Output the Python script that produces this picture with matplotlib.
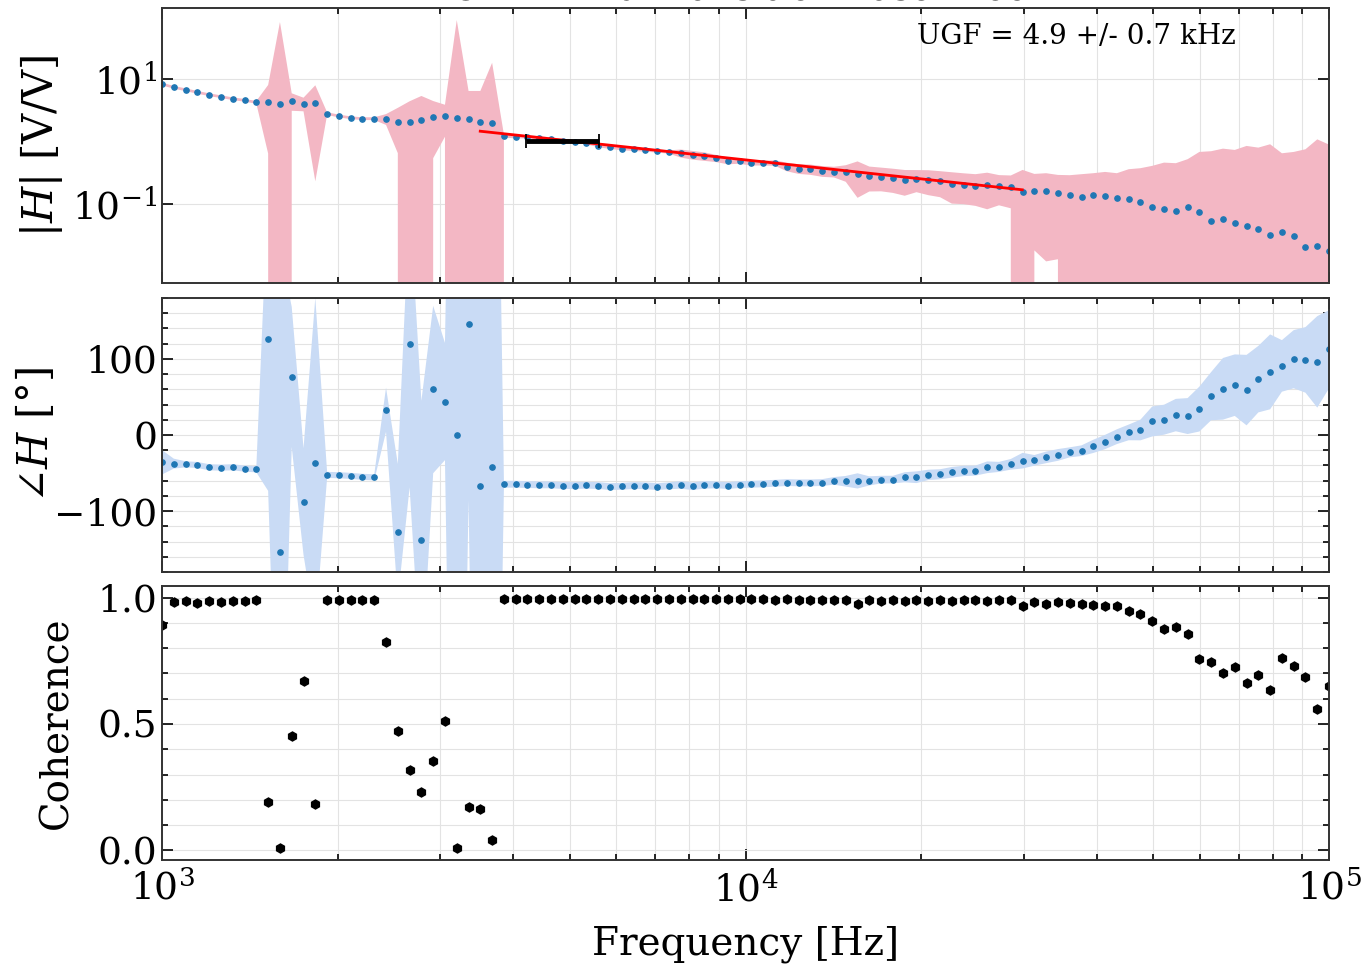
import numpy as np
import matplotlib
matplotlib.use('Agg')
import matplotlib.pyplot as plt
from matplotlib.ticker import FixedLocator, MultipleLocator, NullLocator, LogLocator, NullFormatter

plt.rcParams['font.family'] = ['DejaVu Serif']
plt.rcParams['mathtext.fontset'] = 'dejavuserif'

# swept sine: 100 log-spaced points, 1 kHz .. 100 kHz
f_start, f_stop, n_pts = 1e3, 1e5, 100
freq = np.logspace(np.log10(f_start), np.log10(f_stop), n_pts)

# |H| mean and std (V/V)
mag = [8.32, 7.36, 6.74, 6.13, 5.61, 5.21, 4.84, 4.56, 4.24, 4.33,
       4.03, 4.50, 4.03, 4.08, 2.79, 2.56, 2.40, 2.32, 2.32, 2.29,
       2.05, 2.05, 2.21, 2.49, 2.53, 2.35, 2.29, 2.05, 1.98, 1.22,
       1.19, 1.19, 1.14, 1.10, 1.03, 0.99, 0.96, 0.857, 0.807, 0.767,
       0.750, 0.731, 0.705, 0.679, 0.647, 0.608, 0.579, 0.538, 0.493, 0.479,
       0.458, 0.453, 0.453, 0.395, 0.367, 0.359, 0.337, 0.329, 0.321, 0.302,
       0.277, 0.270, 0.258, 0.242, 0.251, 0.242, 0.231, 0.211, 0.204, 0.196,
       0.199, 0.192, 0.185, 0.157, 0.160, 0.161, 0.152, 0.139, 0.131, 0.138,
       0.133, 0.122, 0.119, 0.106, 0.0895, 0.0841, 0.0764, 0.0885, 0.0745, 0.0535,
       0.0569, 0.0491, 0.0445, 0.0394, 0.0316, 0.0356, 0.0311, 0.0207, 0.0213, 0.0175]
mag_std = [0.42, 0.37, 0.34, 0.31, 0.28, 0.26, 0.24, 0.23, 0.21, 3.69,
           77.7, 1.40, 0.99, 3.85, 0.14, 0.13, 0.12, 0.12, 0.12, 0.45,
           1.40, 2.35, 3.14, 1.95, 1.34, 85.5, 4.14, 4.38, 16.2, 0.07,
           0.07, 0.07, 0.068, 0.066, 0.062, 0.059, 0.058, 0.051, 0.048, 0.046,
           0.045, 0.044, 0.042, 0.041, 0.095, 0.097, 0.090, 0.071, 0.062, 0.040,
           0.048, 0.040, 0.045, 0.062, 0.065, 0.067, 0.066, 0.064, 0.095, 0.177,
           0.119, 0.111, 0.108, 0.107, 0.097, 0.104, 0.103, 0.110, 0.105, 0.103,
           0.117, 0.097, 0.100, 0.193, 0.142, 0.149, 0.139, 0.149, 0.168, 0.172,
           0.192, 0.188, 0.240, 0.267, 0.317, 0.374, 0.372, 0.431, 0.605, 0.644,
           0.710, 0.682, 0.803, 0.757, 0.870, 0.611, 0.648, 0.729, 1.059, 0.872]

# phase mean and std (deg)
phase = [-35.9, -37.6, -38.5, -39.4, -42.4, -42.9, -42.4, -44.2, -45.1,
         126.6, -154.3, 76.4, -87.4, -36.7,
         -52.4, -52.9, -53.7, -55.0, -55.6,
         33.2, -127.1, 119.3, -138.1, 59.8, 44.0, -0.5, 145.5, -66.4, -41.5,
         -64.7, -64.7, -65.1, -65.5, -65.5, -66.4, -66.4, -66.0, -66.4, -67.8,
         -67.4, -66.4, -66.8, -67.8, -66.8, -65.5, -67.4, -65.5, -65.5, -66.4,
         -65.1, -64.7, -64.2, -63.4, -62.5, -62.9, -62.9, -62.5, -60.3, -60.8,
         -60.3, -60.3, -58.6, -58.6, -55.5, -55.5, -52.4, -51.6, -49.0, -47.2,
         -46.8, -42.4, -41.9, -38.5, -33.7, -33.3, -29.4, -26.2, -22.8, -20.6,
         -14.9, -9.2, -2.2, 3.4, 6.6, 17.8, 20.1, 26.2, 24.9, 34.1,
         51.1, 60.7, 65.5, 59.0, 73.4, 83.0, 90.8, 99.6, 98.7, 96.1, 112.7]
phase_std = [16, 6.5, 4, 4, 4, 4, 4, 4, 4,
             200, 400, 92, 70, 217,
             4, 4, 4, 4, 4,
             29, 89, 188, 183, 110, 77, 1000, 231, 1000, 1000,
             4.5, 4.5, 4.5, 4.5, 4.5, 4.5, 4.5, 4.5, 4.5, 4.5,
             4.5, 4.5, 4.5, 4.5, 4.5, 5, 5, 5, 4.5, 4.5,
             4.5, 4.5, 4.5, 4.5, 4.5, 4.5, 4.5, 4.5, 5, 7,
             10, 6, 5, 5, 6.6, 7.7, 6.8, 6.6, 7.0, 6.8,
             6.6, 7.7, 6.6, 7.0, 10.3, 7.0, 7.6, 7.7, 6.6, 7.0,
             8.7, 9.4, 9.7, 10.3, 13.6, 19.7, 19.7, 21.3, 23.6, 29.5,
             31.7, 40.5, 40.4, 46.3, 43.7, 49.2, 33.9, 38.2, 43.1, 60.1, 51.3]

coherence = [0.893, 0.981, 0.985, 0.980, 0.985, 0.981, 0.988, 0.985, 0.991,
             0.190, 0.008, 0.453, 0.669, 0.184,
             0.992, 0.992, 0.992, 0.992, 0.992,
             0.823, 0.472, 0.317, 0.229, 0.353, 0.510, 0.008, 0.170, 0.165, 0.042,
             0.993, 0.993, 0.993, 0.993, 0.993, 0.993, 0.993, 0.994, 0.993, 0.994,
             0.994, 0.993, 0.994, 0.994, 0.993, 0.994, 0.994, 0.993, 0.994, 0.993,
             0.993, 0.993, 0.994, 0.992, 0.993, 0.992, 0.992, 0.992, 0.991, 0.990,
             0.975, 0.989, 0.988, 0.990,
             0.987, 0.989, 0.987, 0.989, 0.985, 0.989, 0.989, 0.985, 0.989, 0.989,
             0.967, 0.981, 0.976, 0.981, 0.980, 0.975, 0.972, 0.966, 0.968, 0.946,
             0.937, 0.909, 0.877, 0.884, 0.855, 0.759, 0.744, 0.702, 0.724, 0.662,
             0.693, 0.636, 0.761, 0.731, 0.685, 0.560, 0.651]

# power-law fit |H| = (f / f0)^slope over the fit window, and UGF estimate
fit_lo, fit_hi = 3.51e3, 2.98e4
fit_f0, fit_slope = 5.1e3, -1.01
ugf, ugf_err = 4.9e3, 0.7e3

mag = np.array(mag)
mag_std = np.array(mag_std)
phase = np.array(phase)
phase_std = np.array(phase_std)

fig = plt.figure(figsize=(13.63, 9.67), dpi=100)
ax1 = fig.add_axes([0.1189, 0.7073, 0.8562, 0.2844])
ax2 = fig.add_axes([0.1189, 0.4085, 0.8562, 0.2833], sharex=ax1)
ax3 = fig.add_axes([0.1189, 0.1107, 0.8562, 0.2833], sharex=ax1)

pink = '#f3b7c4'
lblue = '#c9dbf5'
dotc = '#1f77b4'

ax1.set_yscale('log')
ax1.fill_between(freq, mag - mag_std, mag + mag_std, color=pink, lw=0)
ax1.plot(freq, mag, 'o', color=dotc, ms=3.8)
ffit = np.logspace(np.log10(fit_lo), np.log10(fit_hi), 50)
ax1.plot(ffit, (ffit / fit_f0) ** fit_slope, color='red', lw=2)
ax1.errorbar(ugf, 1.0, xerr=ugf_err, color='k', lw=3.5, capsize=5, capthick=1.3)
ax1.text(0.92, 0.895, f'UGF = {ugf/1e3:.1f} +/- {ugf_err/1e3:.1f} kHz',
         transform=ax1.transAxes, ha='right', va='center', fontsize=20)
ax1.set_ylim(5.4e-3, 1.37e2)
ax1.yaxis.set_major_locator(FixedLocator([0.1, 10]))
ax1.yaxis.set_minor_locator(NullLocator())
ax1.set_ylabel('$|H|$ [V/V]', fontsize=30)

ax2.fill_between(freq, phase - phase_std, phase + phase_std, color=lblue, lw=0)
ax2.plot(freq, phase, 'o', color=dotc, ms=3.8)
ax2.set_ylim(-180, 180)
ax2.yaxis.set_major_locator(MultipleLocator(100))
ax2.yaxis.set_minor_locator(MultipleLocator(20))
ax2.set_ylabel('$\\angle H$ [°]', fontsize=30)

ax3.plot(freq, coherence, 'h', color='k', ms=6.5)
ax3.set_ylim(-0.038, 1.046)
ax3.yaxis.set_major_locator(MultipleLocator(0.5))
ax3.yaxis.set_minor_locator(MultipleLocator(0.1))
ax3.set_ylabel('Coherence', fontsize=28)
ax3.set_xlabel('Frequency [Hz]', fontsize=28, labelpad=12)

ax3.set_xscale('log')
ax3.set_xlim(1e3, 1e5)
ax3.xaxis.set_major_locator(LogLocator(base=10, numticks=5))
ax3.xaxis.set_minor_locator(LogLocator(base=10, subs=np.arange(2, 10), numticks=20))

for ax in (ax1, ax2, ax3):
    ax.grid(True, which='both', color='#e3e3e3', lw=0.8)
    ax.set_axisbelow(True)
    ax.tick_params(which='both', direction='in', top=True, right=True, width=1.2, labelsize=27)
    ax.tick_params(which='major', length=8)
    ax.tick_params(which='minor', length=4)
    ax.tick_params(axis='x', pad=8)
    for s in ax.spines.values():
        s.set_linewidth(1.4)
        s.set_color('#333333')
for ax in (ax1, ax2):
    plt.setp(ax.get_xticklabels(), visible=False)
ax3.xaxis.set_minor_formatter(NullFormatter())

ax1.yaxis.set_label_coords(-0.083, 0.5)
ax2.yaxis.set_label_coords(-0.090, 0.5)
ax3.yaxis.set_label_coords(-0.074, 0.5)

fig.text(0.55, 1.0005, 'OLTF - Rb Transition Laser Lock', ha='center', va='baseline', fontsize=26)

fig.savefig('out.png', dpi=100)
